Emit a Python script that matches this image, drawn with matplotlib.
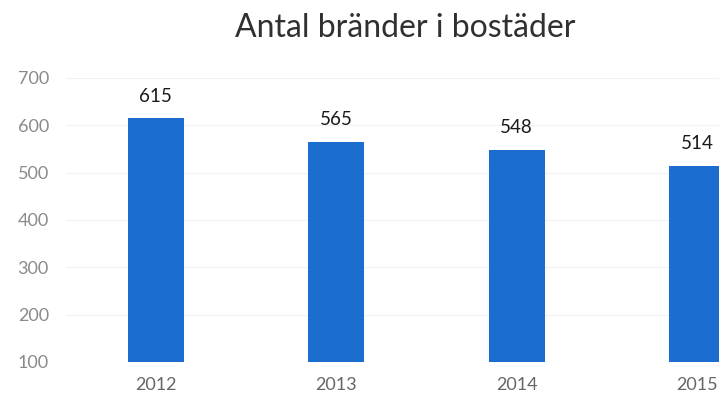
import matplotlib

matplotlib.use("Agg")
import matplotlib.pyplot as plt
import numpy as np

years = ["2012", "2013", "2014", "2015"]
fires = [615, 565, 548, 514]
y_ticks = [100, 200, 300, 400, 500, 600, 700]

BAR_COLOR = "#1c6dd0"
FONT = ["Lato", "DejaVu Sans"]

fig = plt.figure(figsize=(7.19, 4.0), dpi=100)
# axes run past the right edge, the source picture is cropped there
ax = fig.add_axes([65.5 / 719, 38 / 400, 722 / 719, 284 / 400])

x = np.arange(len(years))
bars = ax.bar(x, fires, width=0.31, color=BAR_COLOR, zorder=2)

ax.set_xlim(-0.5, len(years) - 0.5)
ax.set_ylim(100, 700)
ax.set_yticks(y_ticks)
ax.set_yticklabels([str(t) for t in y_ticks], family=FONT, fontsize=13, color="#8a8a8a")
ax.set_xticks(x)
ax.set_xticklabels(years, family=FONT, fontsize=13, color="#666666")
ax.tick_params(axis="both", length=0)
ax.tick_params(axis="y", pad=12)
ax.tick_params(axis="x", pad=11)
ax.yaxis.grid(True, color="#f2f2f2", linewidth=0.8, zorder=0)
for side in ax.spines.values():
    side.set_visible(False)

for rect, val in zip(bars, fires):
    ax.annotate(
        str(val),
        (rect.get_x() + rect.get_width() / 2, val),
        xytext=(0, 16),
        textcoords="offset points",
        ha="center",
        va="center",
        family=FONT,
        fontsize=13.5,
        color="#1a1a1a",
    )

fig.text(405 / 719, 1 - 28 / 400, "Antal bränder i bostäder", ha="center", va="center",
         family=FONT, fontsize=23, color="#303030")

fig.savefig("out.png", dpi=100)
